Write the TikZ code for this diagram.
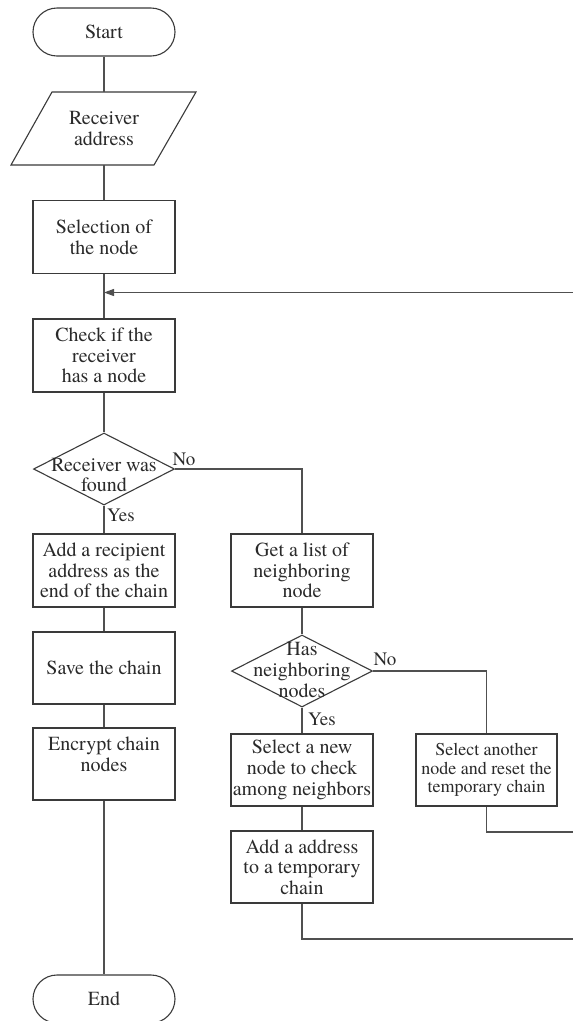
\documentclass[tikz,border=0pt]{standalone}
\usepackage{fontspec}
\setmainfont{texgyretermes}[Extension=.otf, UprightFont=*-regular, BoldFont=*-bold, ItalicFont=*-italic, BoldItalicFont=*-bolditalic]
\usetikzlibrary{shapes.geometric,arrows.meta}
\definecolor{linec}{HTML}{505050}
\definecolor{boxc}{HTML}{3A3A3A}
\definecolor{txtc}{HTML}{2A2A2A}
\tikzset{
  txt/.style={text=txtc, align=center, font=\fontsize{20}{20.7}\selectfont, inner sep=0pt},
  smalltxt/.style={text=txtc, align=center, font=\fontsize{18}{18.5}\selectfont, inner sep=0pt},
  procbox/.style={draw=boxc, line width=1.1pt, rectangle, minimum width=142pt, minimum height=73pt, inner sep=0pt},
  termbox/.style={draw=boxc, line width=1.1pt, rectangle, rounded corners=24pt, minimum width=142pt, minimum height=48pt, inner sep=0pt},
  decbox/.style={draw=boxc, line width=1.1pt, diamond, minimum width=141pt, minimum height=72pt, inner sep=0pt},
  ghost/.style={rectangle, minimum width=142pt, minimum height=73pt, inner sep=0pt},
  conn/.style={draw=linec, line width=1.2pt},
  lbl/.style={text=txtc, font=\fontsize{19}{20}\selectfont, inner sep=0pt}
}
\begin{document}
\begin{tikzpicture}[x=1pt, y=-1pt]
\useasboundingbox[fill=white] (0,0) rectangle (573,1021);

% left column
\node[termbox] (start) at (104,32) {};
\node[txt] (starttxt) at (104,32) {Start};
\node[ghost] (recv) at (104,128.5) {};
\draw[draw=boxc, line width=1.1pt] (52,92) -- (196,92) -- (154,165) -- (11,165) -- cycle;
\node[txt] (recvtxt) at (104,128.5) {Receiver\\address};
\node[procbox] (sel) at (104,237) {};
\node[txt] at (104,237) {Selection of\\the node};
\node[procbox] (check) at (104,355.5) {};
\node[txt] at (104,355.5) {Check if the\\receiver\\has a node};
\node[decbox] (d1) at (104,469) {};
\node[txt] at (104,475) {Receiver was\\found};
\node[procbox] (addr) at (104,570.5) {};
\node[txt] at (104,570.5) {Add a recipient\\address as the\\end of the chain};
\node[procbox, minimum height=72pt] (save) at (104,668) {};
\node[txt] at (104,668) {Save the chain};
\node[procbox, minimum height=72pt] (enc) at (104,764) {};
\node[txt] at (104,754) {Encrypt chain\\nodes};
\node[termbox] (end) at (104,999) {};
\node[txt] at (104,999) {End};

% right column
\node[procbox] (getl) at (302,570.5) {};
\node[txt] at (302,570.5) {Get a list of\\neighboring\\node};
\node[decbox] (d2) at (302,671) {};
\node[txt] at (302,670) {Has\\neighboring\\nodes};
\node[procbox, minimum height=72pt] (selnew) at (302,770) {};
\node[txt] at (302,770) {Select a new\\node to check\\among neighbors};
\node[procbox, minimum width=141pt, minimum height=72pt] (selanother) at (486.5,770) {};
\node[smalltxt] at (486.5,770) {Select another\\node and reset the\\temporary chain};
\node[procbox, minimum height=72pt] (addaddr) at (302,867) {};
\node[txt] at (302,867) {Add a address\\to a temporary\\chain};

% free ends at the right edge
\coordinate (r0) at (573,292.5);
\coordinate (r1) at (573,832);
\coordinate (r2) at (573,939);

% connectors
\draw[conn] (start) -- (recv);
\draw[conn] (recv) -- (sel);
\draw[conn] (sel) -- (check);
\draw[conn, -{Triangle[length=10pt, width=7pt]}] (r0) -- (r0 -| check.north);
\draw[conn] (check) -- (d1);
\draw[conn] (d1) -- (addr);
\draw[conn] (addr) -- (save);
\draw[conn] (save) -- (enc);
\draw[conn] (enc) -- (end);
\draw[conn] (d1.east) -| (getl.north);
\draw[conn] (getl) -- (d2);
\draw[conn] (d2) -- (selnew);
\draw[conn] (d2.east) -| (selanother.north);
\draw[conn] (selnew) -- (addaddr);
\draw[conn] (selanother.south) |- (r1);
\draw[conn] (addaddr.south) |- (r2);

% labels
\node[lbl] (no1) at (184,459) {No};
\node[lbl] (yes1) at (121,515) {Yes};
\node[lbl] (no2) at (385,659) {No};
\node[lbl] (yes2) at (322,719) {Yes};
\end{tikzpicture}
\end{document}
